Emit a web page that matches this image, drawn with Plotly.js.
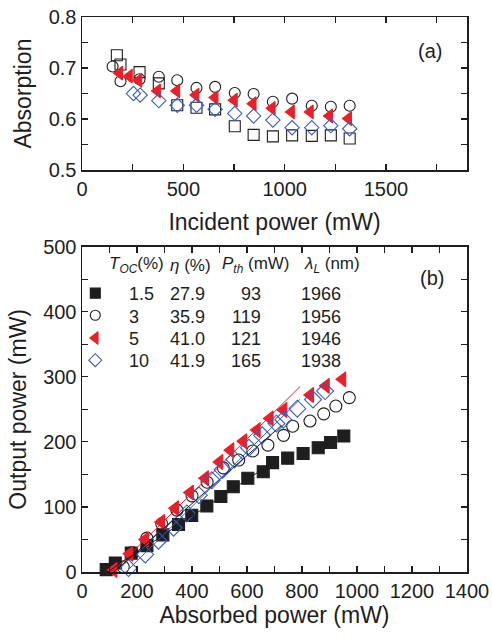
<!DOCTYPE html>
<html>
<head>
<meta charset="utf-8">
<script src="https://cdn.plot.ly/plotly-3.0.1.min.js"></script>
<style>html,body{margin:0;padding:0;background:#fff;}#chart{width:492px;height:643px;}</style>
</head>
<body>
<div id="chart"></div>
<script>
// ---------- Panel (a): absorption vs incident power ----------
const absX_T15 = [172,190,284,379,470,565,657,754,847,942,1037,1134,1228,1321];
const absY_T15 = [0.725,0.707,0.692,0.670,0.627,0.622,0.619,0.586,0.569,0.566,0.568,0.567,0.568,0.562];
const absX_T3  = [151,190,284,379,470,565,657,754,847,942,1037,1134,1228,1321];
const absY_T3  = [0.703,0.674,0.678,0.683,0.676,0.661,0.663,0.651,0.649,0.634,0.640,0.626,0.624,0.626];
const absX_T5  = [185,233,280,372,467,562,656,751,844,938,1033,1126,1221,1315];
const absY_T5  = [0.690,0.684,0.676,0.655,0.655,0.647,0.642,0.637,0.630,0.621,0.614,0.614,0.606,0.601];
const absX_T10 = [254,287,379,470,565,657,754,847,942,1037,1134,1228,1321];
const absY_T10 = [0.650,0.647,0.636,0.627,0.627,0.619,0.611,0.606,0.598,0.583,0.583,0.587,0.581];

// ---------- Panel (b): output power vs absorbed power ----------
const outX_T15 = [88,121,179,236,294,351,399,454,505,550,603,659,693,748,804,859,904,952];
const outY_T15 = [3.6,13.8,29,40.5,57,73,87,101.5,116,131,144,154,168,175,182,191,199,209];
const outX_T3  = [150,181,236,290,345,400,455,514,570,621,676,733,766,829,879,923,972];
const outY_T3  = [8,30,52,74,95,117,138,160,172,186,195,210,224,232,243,255,268];
const outX_T5  = [115,173,230,288,339,393,448,500,540,587,636,683,733,830,887,947];
const outY_T5  = [3,28,50,77,98,122,144,169,187,201,218,236,249,272,286,296];
const outX_T10 = [169,230,278,333,381,425,472,511,554,607,655,707,732,783,840,884];
const outY_T10 = [6,27,48,68,90,118,141,157,173,191,210,228,234,251,265,278];

// linear fit segments (end points)
const fitX_T15 = [93,700];   const fitY_T15 = [0,170];
const fitX_T3  = [115,725];  const fitY_T3  = [0,225];
const fitX_T5  = [110,793];  const fitY_T5  = [0,285];
const fitX_T10 = [160,792];  const fitY_T10 = [0,265];

// legend table
const tocLabels = ['1.5','3','5','10'];
const etaLabels = ['27.9','35.9','41.0','41.9'];
const pthLabels = ['93','119','121','165'];
const lamLabels = ['1966','1956','1946','1938'];

// tick values
const xTicksA = [0,500,1000,1500];
const yTicksA = [0.5,0.6,0.7,0.8];
const xTicksB = [0,200,400,600,800,1000,1200,1400];
const yTicksB = [0,100,200,300,400,500];

const BLACK = '#1e1e1e', RED = '#e8202a', BLUE = '#3a5cc4';
const FONT = 'Liberation Sans, Arial, Helvetica, sans-serif';

const styles = [
  {name:'1.5', sym:'square', color:BLACK, fill:BLACK, size:12},
  {name:'3', sym:'circle-open', color:BLACK, fill:BLACK, size:12},
  {name:'5', sym:'triangle-left', color:RED, fill:RED, size:13},
  {name:'10', sym:'diamond-open', color:BLUE, fill:BLUE, size:13}
];
const openA = ['square-open','circle-open','triangle-left','diamond-open'];

const traces = [];
const aX = [absX_T15, absX_T3, absX_T5, absX_T10];
const aY = [absY_T15, absY_T3, absY_T5, absY_T10];
for (let i = 0; i < 4; i++) {
  traces.push({
    x: aX[i], y: aY[i], xaxis:'x', yaxis:'y', type:'scatter', mode:'markers',
    cliponaxis:false, showlegend:false, name:'T=' + styles[i].name + '% (a)',
    marker:{symbol:openA[i], size: i===2 ? 12 : 11, color:styles[i].color,
            line:{color:styles[i].color, width:1.1}}
  });
}
const bX = [outX_T15, outX_T3, outX_T5, outX_T10];
const bY = [outY_T15, outY_T3, outY_T5, outY_T10];
for (let i = 0; i < 4; i++) {
  traces.push({
    x: bX[i], y: bY[i], xaxis:'x2', yaxis:'y2', type:'scatter', mode:'markers',
    cliponaxis:false, showlegend:false, name:'T=' + styles[i].name + '%',
    marker:{symbol:styles[i].sym, size:styles[i].size, color:styles[i].fill,
            line:{color:styles[i].color, width:1.1}}
  });
}
const fX = [fitX_T15, fitX_T3, fitX_T5, fitX_T10];
const fY = [fitY_T15, fitY_T3, fitY_T5, fitY_T10];
const fC = [BLACK, BLACK, RED, BLUE];
for (let i = 0; i < 4; i++) {
  traces.push({
    x: fX[i], y: fY[i], xaxis:'x2', yaxis:'y2', type:'scatter', mode:'lines',
    showlegend:false, hoverinfo:'skip', line:{color:fC[i], width:1}
  });
}
// legend symbols (on hidden axes overlaying panel b)
const legRowY = [0.857, 0.789, 0.719, 0.651];
for (let i = 0; i < 4; i++) {
  traces.push({
    x:[0.0345], y:[legRowY[i]], xaxis:'x3', yaxis:'y3', type:'scatter', mode:'markers',
    showlegend:false, hoverinfo:'skip', cliponaxis:false,
    marker:{symbol:styles[i].sym, size: i===2 ? 11 : 10, color:styles[i].fill,
            line:{color:styles[i].color, width:1.1}}
  });
}

const axisCommon = {
  showline:true, linecolor:BLACK, linewidth:1.5, mirror:'ticks',
  ticks:'inside', ticklen:6, tickwidth:1.2, tickcolor:BLACK,
  showgrid:false, zeroline:false,
  tickfont:{family:FONT, size:20, color:BLACK},
  minor:{ticks:'inside', ticklen:6, tickwidth:1.2, tickcolor:BLACK, showgrid:false}
};
const titleFont = {family:FONT, size:23, color:BLACK};

const annotations = [];
const hdrY = 0.943;
const hdr = [
  {x:0.066, t:'<i>T</i><sub><i>OC</i></sub>(%)'},
  {x:0.224, t:'<i>η</i> (%)'},
  {x:0.359, t:'<i>P</i><sub><i>th</i></sub> (mW)'},
  {x:0.571, t:'<i>λ</i><sub><i>L</i></sub> (nm)'}
];
hdr.forEach(h => annotations.push({xref:'x2 domain', yref:'y2 domain', x:h.x, y:hdrY,
  xanchor:'left', yanchor:'middle', showarrow:false, text:h.t,
  font:{family:FONT, size:17, color:BLACK}}));
for (let i = 0; i < 4; i++) {
  const base = {xref:'x2 domain', yref:'y2 domain', y:legRowY[i] - 0.004, yanchor:'middle',
    showarrow:false, font:{family:FONT, size:18, color:BLACK}};
  annotations.push(Object.assign({}, base, {x:0.117, xanchor:'left', text:tocLabels[i]}));
  annotations.push(Object.assign({}, base, {x:0.224, xanchor:'left', text:etaLabels[i]}));
  annotations.push(Object.assign({}, base, {x:0.470, xanchor:'right', text:pthLabels[i]}));
  annotations.push(Object.assign({}, base, {x:0.563, xanchor:'left', text:lamLabels[i]}));
}
annotations.push({xref:'x domain', yref:'y domain', x:0.903, y:0.778, xanchor:'center', yanchor:'middle',
  showarrow:false, text:'(a)', font:{family:FONT, size:20, color:BLACK}});
annotations.push({xref:'x2 domain', yref:'y2 domain', x:0.908, y:0.903, xanchor:'center', yanchor:'middle',
  showarrow:false, text:'(b)', font:{family:FONT, size:20, color:BLACK}});

const layout = {
  width:492, height:643,
  margin:{l:81.7, r:24.5, t:17, b:71.3},
  paper_bgcolor:'#fff', plot_bgcolor:'rgba(0,0,0,0)',
  showlegend:false,
  xaxis: Object.assign({}, axisCommon, {domain:[0,1], anchor:'y', range:[0,1900],
    tickvals:xTicksA, minor:Object.assign({}, axisCommon.minor, {dtick:250, tick0:0}),
    title:{text:'Incident power (mW)', font:titleFont, standoff:15}}),
  yaxis: Object.assign({}, axisCommon, {domain:[0.7242,1], anchor:'x', range:[0.5,0.8],
    tickvals:yTicksA, tickformat:'.1f', minor:Object.assign({}, axisCommon.minor, {dtick:0.05, tick0:0.5}),
    title:{text:'Absorption', font:titleFont, standoff:10}}),
  xaxis2: Object.assign({}, axisCommon, {domain:[0,1], anchor:'y2', range:[0,1400],
    tickvals:xTicksB, minor:Object.assign({}, axisCommon.minor, {dtick:100, tick0:0}),
    title:{text:'Absorbed power (mW)', font:titleFont, standoff:6}}),
  yaxis2: Object.assign({}, axisCommon, {domain:[0,0.5863], anchor:'x2', range:[0,500],
    tickvals:yTicksB, minor:Object.assign({}, axisCommon.minor, {dtick:50, tick0:0}),
    title:{text:'Output power (mW)', font:titleFont, standoff:10}}),
  xaxis3:{overlaying:'x2', anchor:'y3', range:[0,1], visible:false, fixedrange:true},
  yaxis3:{overlaying:'y2', anchor:'x3', range:[0,1], visible:false, fixedrange:true},
  annotations: annotations
};

Plotly.newPlot('chart', traces, layout, {displayModeBar:false, staticPlot:true});
</script>
</body>
</html>
